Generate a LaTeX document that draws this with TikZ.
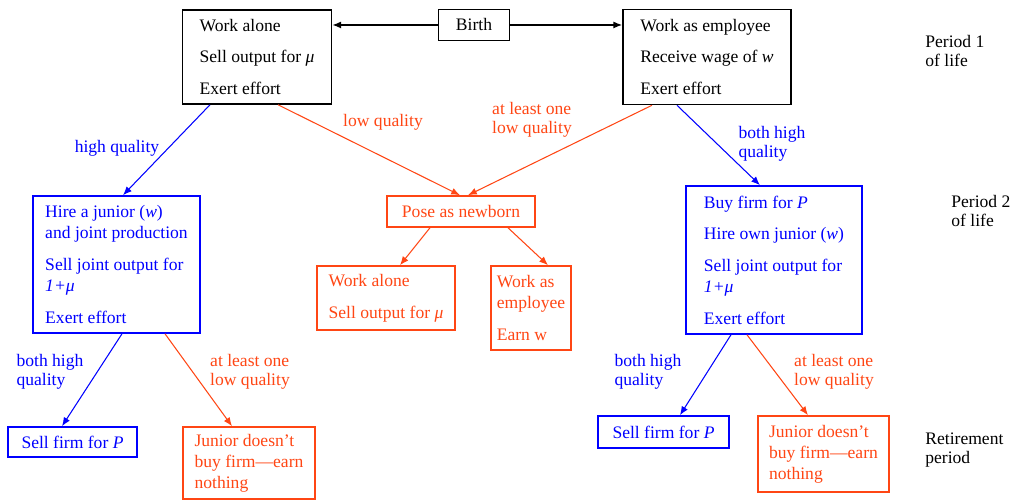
\documentclass[tikz,border=0pt]{standalone}
\usepackage{fontspec}
\setmainfont{Liberation Serif}
\usetikzlibrary{arrows.meta, positioning}
\definecolor{tblue}{RGB}{0,0,255}
\definecolor{tred}{RGB}{255,70,20}
\tikzstyle{box} = [rectangle, draw, line width=.9pt, align=left, font=\fontsize{10}{12}\selectfont]
\tikzstyle{bluebox} = [box, draw=tblue, text=tblue]
\tikzstyle{redbox} = [box, draw=tred, text=tred]
\tikzstyle{lbl} = [align=left, font=\fontsize{10}{11}\selectfont]
\tikzstyle{arrow} = [line width=.8pt, -{Latex[length=5pt,width=4pt]}]
\tikzstyle{bluearrow} = [arrow, line width=.6pt, color=tblue]
\tikzstyle{redarrow} = [arrow, line width=.6pt, color=tred]

\begin{document}
\begin{tikzpicture}
\useasboundingbox (0,0) rectangle (20.28,10);
% period 1
\node[box, minimum width=2.98cm, minimum height=1.88cm] (alone) at (5.14,8.86) {Work alone\\[6pt]Sell output for \textit{μ}\\[6pt]Exert effort};
\node[box, minimum width=1.42cm, minimum height=.62cm] (birth) at (9.48,9.5) {Birth};
\node[box, minimum width=3.36cm, minimum height=1.9cm] (employee) at (14.14,8.86) {Work as employee\\[6pt]Receive wage of \textit{w}\\[6pt]Exert effort};

% period 2
\node[bluebox, minimum width=3.34cm, minimum height=2.74cm] (junior) at (2.33,4.71) {Hire a junior (\textit{w})\\and joint production\\[6pt]Sell joint output for\\\textit{1+μ}\\[6pt]Exert effort};
\node[redbox, minimum width=2.96cm, minimum height=.62cm] (pose) at (9.22,5.77) {Pose as newborn};
\node[bluebox, minimum width=3.52cm, minimum height=2.96cm] (buyfirm) at (15.48,4.8) {Buy firm for \textit{P}\\[6pt]Hire own junior (\textit{w})\\[6pt]Sell joint output for\\\textit{1+μ}\\[6pt]Exert effort};
\node[redbox, minimum width=2.76cm, minimum height=1.28cm] (againalone) at (7.72,4.04) {Work alone\\[6pt]Sell output for \textit{μ}};
\node[redbox, minimum width=1.52cm, minimum height=1.68cm] (againemp) at (10.62,3.84) {Work as\\employee\\[6pt]Earn w};

% retirement
\node[bluebox, minimum width=2.58cm, minimum height=.6cm] (sellL) at (1.45,1.16) {Sell firm for \textit{P}};
\node[redbox, minimum width=2.64cm, minimum height=1.44cm] (nothingL) at (4.98,.74) {Junior doesn't\\buy firm—earn\\nothing};
\node[bluebox, minimum width=2.62cm, minimum height=.64cm] (sellR) at (13.27,1.36) {Sell firm for \textit{P}};
\node[redbox, minimum width=2.62cm, minimum height=1.52cm] (nothingR) at (16.47,.92) {Junior doesn't\\buy firm—earn\\nothing};

% periods
\node[lbl, anchor=west, inner sep=0pt] (p1) at (18.5,8.98) {Period 1\\of life};
\node[lbl, anchor=west, inner sep=0pt] (p2) at (19.02,5.78) {Period 2\\of life};
\node[lbl, anchor=west, inner sep=0pt] (p3) at (18.5,1.0) {Retirement\\period};

% labels
\node[lbl, text=tblue] (hq) at (2.34,7.04) {high quality};
\node[lbl, text=tred] (lq) at (7.66,7.56) {low quality};
\node[lbl, text=tred] (lq2) at (10.64,7.6) {at least one\\low quality};
\node[lbl, text=tblue] (bhq) at (15.44,7.12) {both high\\quality};
\node[lbl, text=tblue] (bhqL) at (1.0,2.56) {both high\\quality};
\node[lbl, text=tred] (lqL) at (5.0,2.56) {at least one\\low quality};
\node[lbl, text=tblue] (bhqR) at (12.96,2.56) {both high\\quality};
\node[lbl, text=tred] (lqR) at (16.68,2.56) {at least one\\low quality};

% arrows
\draw[arrow] (birth.west) -- (birth.west -| alone.east);
\draw[arrow] (birth.east) -- (birth.east -| employee.west);
\draw[bluearrow] ([xshift=-.94cm]alone.south) -- ([xshift=.13cm]junior.north);
\draw[redarrow] ([xshift=.42cm]alone.south) -- ([xshift=-.02cm]pose.north);
\draw[redarrow] ([xshift=-1.1cm]employee.south) -- ([xshift=.14cm]pose.north);
\draw[bluearrow] ([xshift=-.6cm]employee.south) -- ([xshift=-.28cm]buyfirm.north);
\draw[redarrow] ([xshift=-.62cm]pose.south) -- ([xshift=.28cm]againalone.north);
\draw[redarrow] ([xshift=.94cm]pose.south) -- ([xshift=.34cm]againemp.north);
\draw[bluearrow] ([xshift=.11cm]junior.south) -- ([xshift=-.21cm]sellL.north);
\draw[redarrow] ([xshift=.97cm]junior.south) -- ([xshift=-.34cm]nothingL.north);
\draw[bluearrow] ([xshift=-.86cm]buyfirm.south) -- ([xshift=.33cm]sellR.north);
\draw[redarrow] ([xshift=-.54cm]buyfirm.south) -- ([xshift=-.31cm]nothingR.north);
\end{tikzpicture}
\end{document}
